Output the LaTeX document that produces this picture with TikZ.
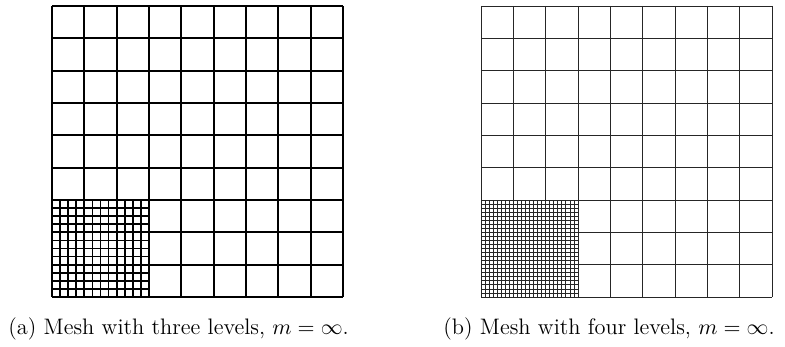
\documentclass[tikz,border=0pt]{standalone}
\tikzset{
  meshA/.style={line width=0.9pt, black},
  meshB/.style={line width=0.4pt, black!85},
  capt/.style={anchor=base west, inner sep=0pt, font=\fontsize{11.2}{13}\selectfont}
}
\begin{document}
\begin{tikzpicture}[x=0.5pt,y=-0.5pt]
\useasboundingbox (0,0) rectangle (785,347);
% ---- (a) three levels ----
\foreach \i in {0,...,9} {
  \draw[meshA] ({52+\i*291/9},6) -- ({52+\i*291/9},297);
  \draw[meshA] (52,{6+\i*291/9}) -- (343,{6+\i*291/9});
}
\foreach \i in {1,...,11} {
  \draw[meshA] ({52+\i*97/12},200) -- ({52+\i*97/12},297);
  \draw[meshA] (52,{200+\i*97/12}) -- (149,{200+\i*97/12});
}
% ---- (b) four levels ----
\foreach \i in {0,...,9} {
  \draw[meshB] ({481+\i*291/9},6) -- ({481+\i*291/9},297);
  \draw[meshB] (481,{6+\i*291/9}) -- (772,{6+\i*291/9});
}
\foreach \i in {1,...,23} {
  \draw[meshB] ({481+\i*97/24},200) -- ({481+\i*97/24},297);
  \draw[meshB] (481,{200+\i*97/24}) -- (578,{200+\i*97/24});
}
\node[capt] (capa) at (8,334) {(a)\ Mesh with three levels, $m=\infty$.};
\node[capt] (capb) at (443,334) {(b)\ Mesh with four levels, $m=\infty$.};
\end{tikzpicture}
\end{document}
